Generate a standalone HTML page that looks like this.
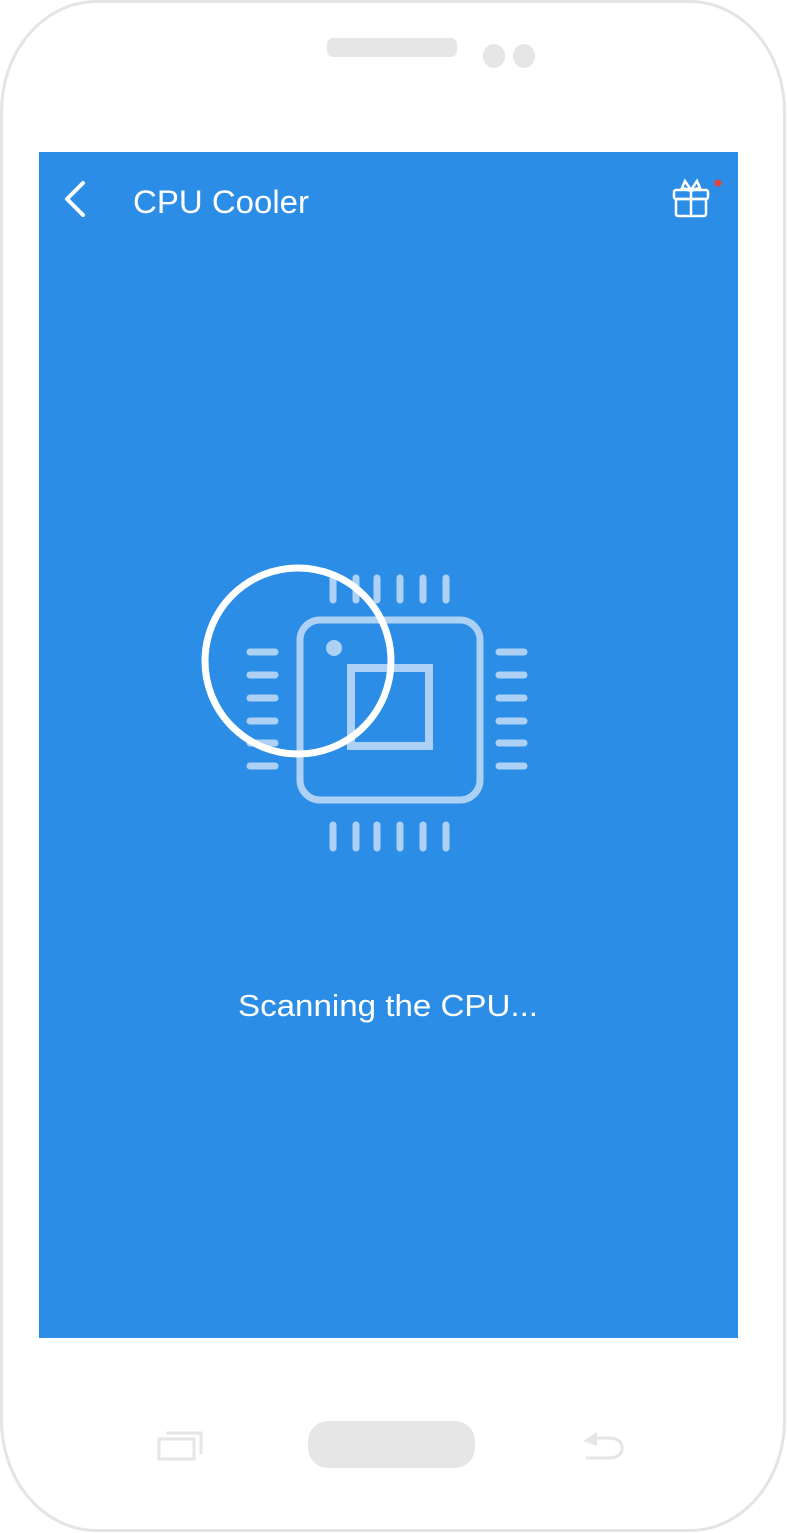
<!DOCTYPE html>
<html><head><meta charset="utf-8"><style>
html,body{margin:0;padding:0;background:#fff;width:787px;height:1533px;overflow:hidden}
svg{display:block}
</style></head><body>
<svg width="787" height="1533" viewBox="0 0 787 1533" xmlns="http://www.w3.org/2000/svg">
<rect x="1.5" y="1.5" width="783" height="1529" rx="95" ry="110" fill="#fff" stroke="#e4e4e7" stroke-width="3"/>
<rect x="327" y="38" width="130" height="19" rx="6" fill="#e6e6e6"/>
<ellipse cx="494" cy="56" rx="11" ry="12" fill="#e6e6e6"/>
<ellipse cx="524" cy="56" rx="11" ry="12" fill="#e6e6e6"/>
<rect x="39" y="152" width="699" height="1186" fill="#2b8de5"/>
<polyline points="83,183 67,199 83,215" fill="none" stroke="#fff" stroke-width="4" stroke-linecap="round" stroke-linejoin="round"/>
<text x="133" y="213" font-family="Liberation Sans, sans-serif" font-size="32" fill="#fff" textLength="176" lengthAdjust="spacingAndGlyphs">CPU Cooler</text>
<g fill="none" stroke="#fff" stroke-width="2.5">
<rect x="674" y="190" width="34" height="9" rx="2"/>
<rect x="676" y="199" width="30" height="17" rx="2"/>
<line x1="691" y1="190" x2="691" y2="216"/>
<path d="M691 190 L685 181 L682 188 Z M691 190 L697 181 L700 188 Z"/>
</g>
<circle cx="718" cy="183" r="3.5" fill="#e8403a"/>
<g stroke="#acd1f5" stroke-width="7" stroke-linecap="round" fill="none">
<path d="M333 578V600M356 578V600M377 578V600M400 578V600M423 578V600M446 578V600"/>
<path d="M333 825V848M356 825V848M377 825V848M400 825V848M423 825V848M446 825V848"/>
<path d="M250 652H275M250 675H275M250 698H275M250 721H275M250 743H275M250 766H275"/>
<path d="M499 652H524M499 675H524M499 698H524M499 721H524M499 743H524M499 766H524"/>
</g>
<rect x="300" y="620" width="180" height="180" rx="20" fill="none" stroke="#acd1f5" stroke-width="7"/>
<rect x="351" y="668" width="78" height="78" fill="none" stroke="#acd1f5" stroke-width="8"/>
<circle cx="334" cy="648" r="8" fill="#acd1f5"/>
<circle cx="298" cy="661" r="93" fill="none" stroke="#fff" stroke-width="7"/>
<text x="388" y="1016" text-anchor="middle" font-family="Liberation Sans, sans-serif" font-size="31" fill="#fff" textLength="300" lengthAdjust="spacingAndGlyphs">Scanning the CPU...</text>
<rect x="308" y="1421" width="167" height="47" rx="20" fill="#e6e6e6"/>
<g fill="none" stroke="#e6e6e6" stroke-width="3">
<rect x="159" y="1439" width="35" height="20"/>
<polyline points="166,1433 201,1433 201,1454"/>
<path d="M586 1458 H608 Q622 1458 622 1448 Q622 1438 608 1438 H596"/>
</g>
<path d="M583 1441 L597 1432 L597 1446 Z" fill="#e6e6e6"/>
</svg>
</body></html>
